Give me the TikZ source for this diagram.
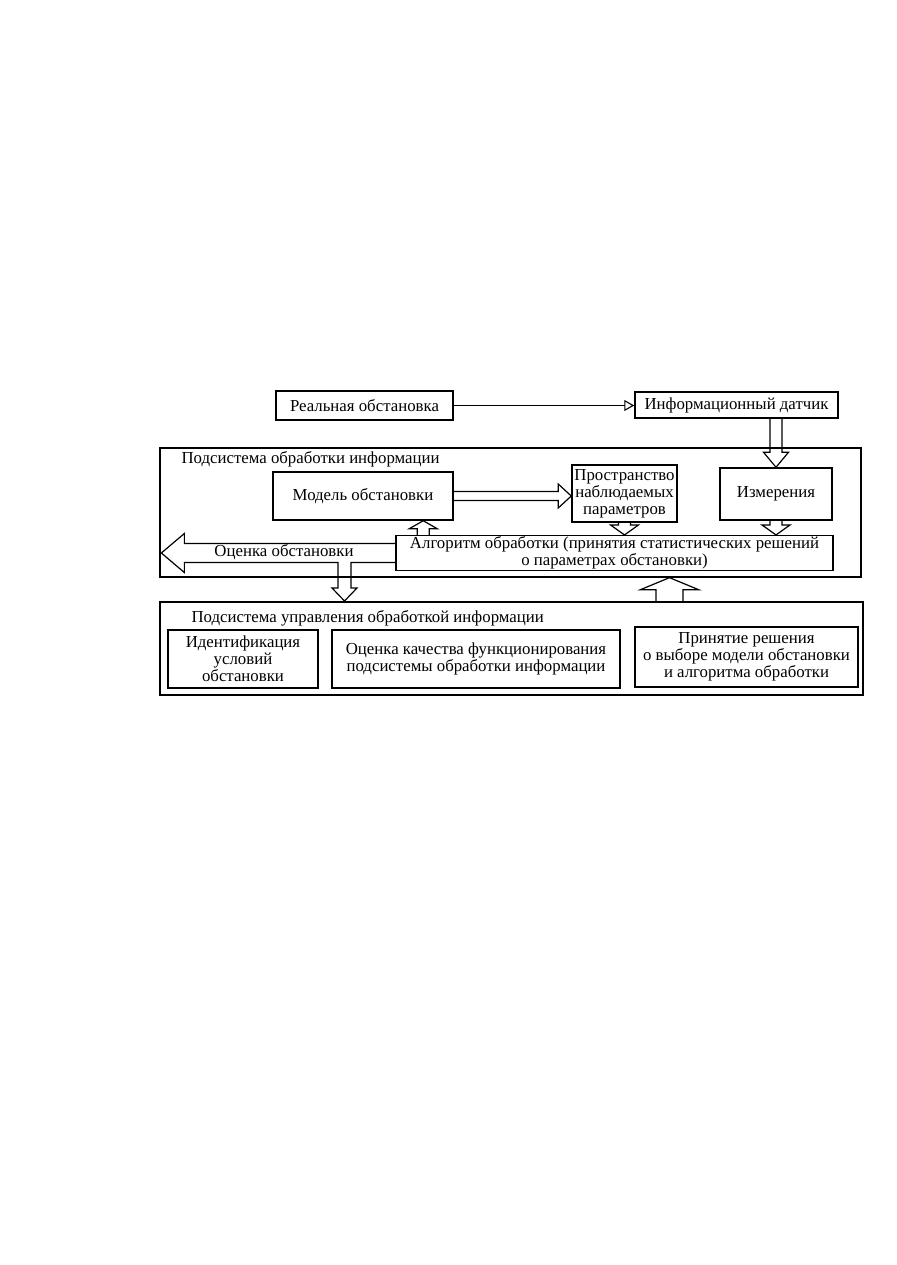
\documentclass[tikz,border=0pt]{standalone}
\usepackage{fontspec}
\setmainfont{Liberation Serif}
\usetikzlibrary{positioning,arrows.meta,calc}
% hollow block arrow: from, to, shaft half-width, head half-width, head length
\newcommand{\blkarrow}[5]{%
  \coordinate (hb) at ($#2!#5!#1$);
  \draw[hol] ($#1!#3!90:#2$) -- ($(hb)!#3!90:#2$) -- ($(hb)!#4!90:#2$) -- #2
    -- ($(hb)!#4!-90:#2$) -- ($(hb)!#3!-90:#2$) -- ($#1!#3!-90:#2$);
}

\begin{document}
\begin{tikzpicture}[x=1pt,y=-1pt,
  every node/.style={font=\fontsize{16.8}{17}\selectfont},
  blk/.style={draw,line width=1.5pt,inner sep=1pt,align=center},
  frame/.style={draw,line width=1.3pt},
  hol/.style={line width=1.2pt,line join=miter}]
  \useasboundingbox (0,0) rectangle (896,1265);

  \node[blk,minimum width=177pt,minimum height=29pt] (real) at (364.5,405.5) {Реальная обстановка};
  \node[blk,minimum width=203pt,minimum height=26pt] (sensor) at (736.5,405) {Информационный датчик};
  \draw[line width=1.1pt,-{Triangle[open,length=10pt,width=11pt]}] (real.east) -- (real.east -| sensor.west);

  % processing subsystem
  \node[frame,minimum width=701pt,minimum height=129pt] (proc) at (510.5,512.5) {};
  \node[anchor=west] (proclbl) at (178,459) {Подсистема обработки информации};
  \node[blk,minimum width=180pt,minimum height=48pt] (model) at (363,496) {Модель обстановки};
  \node[blk,minimum width=105pt,minimum height=57pt] (space) at (624.5,493.5) {Пространство\\наблюдаемых\\параметров};
  \node[blk,minimum width=112pt,minimum height=52pt] (meas) at (776,494) {Измерения};
  \node[blk,minimum width=437pt,minimum height=34pt] (alg) at (614.5,553) {Алгоритм обработки (принятия статистических решений\\о параметрах обстановки)};

  \coordinate (s1) at (meas.north |- sensor.south);
  \blkarrow{(s1)}{(meas.north)}{6pt}{12.5pt}{15pt}
  \coordinate (m1) at (model.east -| space.west);
  \coordinate (m0) at (model.east |- m1);
  \blkarrow{(m0)}{(m1)}{4.5pt}{12pt}{13pt}
  \coordinate (p1) at (space.south |- alg.north);
  \blkarrow{(space.south)}{(p1)}{6pt}{14pt}{10pt}
  \coordinate (q1) at (meas.south |- alg.north);
  \blkarrow{(meas.south)}{(q1)}{6pt}{14pt}{10pt}
  \coordinate (a1) at ($(alg.north west)+(28,0)$);
  \coordinate (a2) at (a1 |- model.south);
  \blkarrow{(a1)}{(a2)}{6pt}{14pt}{8pt}

  % estimate arrow with its branch down
  \coordinate (tipL) at ($(alg.west -| proc.west)+(2,0)$);
  \coordinate (tipD) at (344.5,601);
  \draw[hol] ($(alg.west)+(0,-9.5)$) -- ($(tipL)+(23,-9.5)$) -- ($(tipL)+(23,-19.5)$) -- (tipL)
    -- ($(tipL)+(23,19.5)$) -- ($(tipL)+(23,9.5)$) -- ($(tipD)+(-6.5,-38.5)$)
    -- ($(tipD)+(-6.5,-13)$) -- ($(tipD)+(-12.5,-13)$) -- (tipD) -- ($(tipD)+(12.5,-13)$)
    -- ($(tipD)+(6.5,-13)$) -- ($(tipD)+(6.5,-38.5)$) -- ($(alg.west)+(0,9.5)$);
  \node (estlbl) at (284,552) {Оценка обстановки};

  % control subsystem
  \node[frame,minimum width=703pt,minimum height=93pt] (ctrl) at (511.5,648.5) {};
  \node[anchor=west] (ctrllbl) at (188,618) {Подсистема управления обработкой информации};
  \node[blk,minimum width=150pt,minimum height=58pt] (ident) at (243,659) {Идентификация\\условий\\обстановки};
  \node[blk,minimum width=288pt,minimum height=58pt] (qual) at (476,659) {Оценка качества функционирования\\подсистемы обработки информации};
  \node[blk,minimum width=223pt,minimum height=60pt] (decide) at (746.5,657) {Принятие решения\\о выборе модели обстановки\\и алгоритма обработки};

  \coordinate (c1) at (669.5,602);
  \coordinate (c2) at (c1 |- proc.south);
  \blkarrow{(c1)}{(c2)}{13.5pt}{29pt}{12pt}
\end{tikzpicture}
\end{document}
